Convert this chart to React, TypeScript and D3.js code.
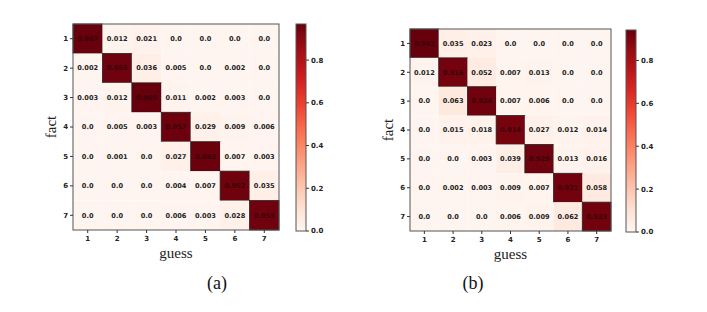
import * as d3 from "d3";

const labels = ["1", "2", "3", "4", "5", "6", "7"];

const matrixA = [
  [0.967, 0.012, 0.021, 0.0, 0.0, 0.0, 0.0],
  [0.002, 0.955, 0.036, 0.005, 0.0, 0.002, 0.0],
  [0.003, 0.012, 0.969, 0.011, 0.002, 0.003, 0.0],
  [0.0, 0.005, 0.003, 0.957, 0.029, 0.009, 0.006],
  [0.0, 0.001, 0.0, 0.027, 0.962, 0.007, 0.003],
  [0.0, 0.0, 0.0, 0.004, 0.007, 0.952, 0.035],
  [0.0, 0.0, 0.0, 0.006, 0.003, 0.028, 0.953],
];

const matrixB = [
  [0.942, 0.035, 0.023, 0.0, 0.0, 0.0, 0.0],
  [0.012, 0.916, 0.052, 0.007, 0.013, 0.0, 0.0],
  [0.0, 0.063, 0.924, 0.007, 0.006, 0.0, 0.0],
  [0.0, 0.015, 0.018, 0.914, 0.027, 0.012, 0.014],
  [0.0, 0.0, 0.003, 0.039, 0.929, 0.013, 0.016],
  [0.0, 0.002, 0.003, 0.009, 0.007, 0.921, 0.058],
  [0.0, 0.0, 0.0, 0.006, 0.009, 0.062, 0.923],
];

const cbTicks = [0.0, 0.2, 0.4, 0.6, 0.8];

const fmt = (v: number) => (v === 0 ? "0.0" : String(v));

type PanelProps = {
  id: string;
  data: number[][];
  box: { x: number; y: number; w: number; h: number };
  cb: { x: number; w: number; top: number; bottom: number };
  caption: string;
  captionX: number;
};

const Panel = ({ id, data, box, cb, caption, captionX }: PanelProps) => {
  const vmax = d3.max(data.flat()) as number;
  const color = d3.scaleSequential(d3.interpolateReds).domain([0, vmax]);
  const x = d3.scaleBand().domain(labels).range([box.x, box.x + box.w]);
  const y = d3.scaleBand().domain(labels).range([box.y, box.y + box.h]);
  const cy = d3.scaleLinear().domain([0, vmax]).range([cb.bottom, cb.top]);
  const gradId = "grad-" + id;
  const stops = d3.range(0, 1.0001, 0.1);

  return (
    <g>
      <defs>
        <linearGradient id={gradId} x1="0" y1="1" x2="0" y2="0">
          {stops.map((t) => (
            <stop key={t} offset={t} stopColor={d3.interpolateReds(t)} />
          ))}
        </linearGradient>
      </defs>
      {data.map((row, i) =>
        row.map((v, j) => (
          <g key={i + "-" + j}>
            <rect
              x={x(labels[j])}
              y={y(labels[i])}
              width={x.bandwidth()}
              height={y.bandwidth()}
              fill={color(v)}
              stroke={i === j ? "#222" : "none"}
              strokeWidth={0.8}
            />
            <text
              x={(x(labels[j]) as number) + x.bandwidth() / 2}
              y={(y(labels[i]) as number) + y.bandwidth() / 2}
              dy="0.35em"
              textAnchor="middle"
              fontFamily="DejaVu Sans"
              fontWeight="bold"
              fontSize={6.6}
              fill={i === j ? "#3a0008" : "#222"}
            >
              {fmt(v)}
            </text>
          </g>
        ))
      )}
      <rect x={box.x} y={box.y} width={box.w} height={box.h} fill="none" stroke="#555" strokeWidth={1} />
      {labels.map((l) => (
        <g key={"y" + l}>
          <line
            x1={box.x - 3}
            x2={box.x}
            y1={(y(l) as number) + y.bandwidth() / 2}
            y2={(y(l) as number) + y.bandwidth() / 2}
            stroke="#333"
          />
          <text
            x={box.x - 5}
            y={(y(l) as number) + y.bandwidth() / 2}
            dy="0.35em"
            textAnchor="end"
            fontFamily="DejaVu Sans"
            fontWeight="bold"
            fontSize={7}
            fill="#222"
          >
            {l}
          </text>
          <line
            x1={(x(l) as number) + x.bandwidth() / 2}
            x2={(x(l) as number) + x.bandwidth() / 2}
            y1={box.y + box.h}
            y2={box.y + box.h + 3}
            stroke="#333"
          />
          <text
            x={(x(l) as number) + x.bandwidth() / 2}
            y={box.y + box.h + 11}
            textAnchor="middle"
            fontFamily="DejaVu Sans"
            fontWeight="bold"
            fontSize={7}
            fill="#222"
          >
            {l}
          </text>
        </g>
      ))}
      <text
        x={box.x + box.w / 2}
        y={box.y + box.h + 28}
        textAnchor="middle"
        fontFamily="Liberation Serif"
        fontSize={15}
        fill="#222"
      >
        guess
      </text>
      <text
        transform={`translate(${box.x - 17},${box.y + box.h / 2}) rotate(-90)`}
        textAnchor="middle"
        fontFamily="Liberation Serif"
        fontSize={15}
        fill="#222"
      >
        fact
      </text>
      <rect
        x={cb.x}
        y={cb.top}
        width={cb.w}
        height={cb.bottom - cb.top}
        fill={`url(#${gradId})`}
        stroke="#555"
        strokeWidth={1}
      />
      {cbTicks.map((t) => (
        <g key={"c" + t}>
          <line x1={cb.x + cb.w} x2={cb.x + cb.w + 3} y1={cy(t)} y2={cy(t)} stroke="#333" />
          <text
            x={cb.x + cb.w + 5}
            y={cy(t)}
            dy="0.35em"
            fontFamily="DejaVu Sans"
            fontWeight="bold"
            fontSize={7}
            fill="#222"
          >
            {t.toFixed(1)}
          </text>
        </g>
      ))}
      <text x={captionX} y={289} textAnchor="middle" fontFamily="Liberation Serif" fontSize={18} fill="#111">
        {caption}
      </text>
    </g>
  );
};

export default function App() {
  return (
    <svg width={707} height={312} style={{ position: "absolute", left: 0, top: 0, background: "#fff" }}>
      <Panel
        id="a"
        data={matrixA}
        box={{ x: 73, y: 24, w: 206, h: 206 }}
        cb={{ x: 296, w: 10, top: 24, bottom: 231 }}
        caption="(a)"
        captionX={217}
      />
      <Panel
        id="b"
        data={matrixB}
        box={{ x: 410, y: 29, w: 201, h: 202 }}
        cb={{ x: 626, w: 10, top: 30, bottom: 232 }}
        caption="(b)"
        captionX={473}
      />
    </svg>
  );
}
